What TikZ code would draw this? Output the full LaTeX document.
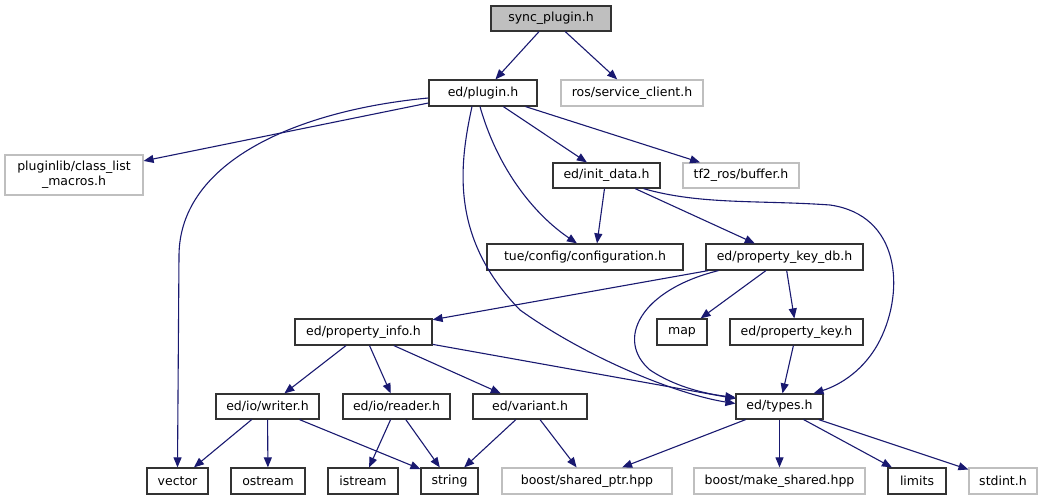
\documentclass[tikz,border=0pt]{standalone}
\usepackage{fontspec}
\setmainfont{DejaVu Sans}
\usetikzlibrary{arrows.meta}
\definecolor{edgeblue}{HTML}{191970}
\definecolor{extgray}{HTML}{BFBFBF}
\definecolor{boxline}{HTML}{333333}
\begin{document}
\begin{tikzpicture}[x=1pt,y=-1pt,
  every node/.style={font=\fontsize{12.5}{15}\selectfont, inner sep=0pt, minimum height=26pt, anchor=center},
  file/.style={draw=boxline, line width=1.2pt, fill=white},
  ext/.style={draw=extgray, line width=1.2pt, fill=white},
  root/.style={draw=boxline, line width=1.2pt, fill=extgray},
  dep/.style={draw=edgeblue, line width=1.1pt, -{Triangle[length=10pt,width=8pt]}}
]
\useasboundingbox (0,0) rectangle (1063,500);
% nodes
\node[root, minimum width=120pt, minimum height=25pt] (sync) at (551,18.5) {sync\_plugin.h};
\node[file, minimum width=108pt] (plugin) at (483,93) {ed/plugin.h};
\node[ext, minimum width=142pt] (svc) at (632,93) {ros/service\_client.h};
\node[ext, minimum width=138pt, minimum height=40pt, align=center] (plib) at (74,175) {pluginlib/class\_list\\\_macros.h};
\node[file, minimum width=107pt, minimum height=25pt] (init) at (606.5,175.5) {ed/init\_data.h};
\node[ext, minimum width=116pt, minimum height=25pt] (tf) at (741,175.5) {tf2\_ros/buffer.h};
\node[file, minimum width=196pt] (cfg) at (585,257) {tue/config/configuration.h};
\node[file, minimum width=157pt] (kdb) at (784.5,257) {ed/property\_key\_db.h};
\node[file, minimum width=137pt] (pinfo) at (363.5,332) {ed/property\_info.h};
\node[file, minimum width=50pt] (map) at (682,332) {map};
\node[file, minimum width=133pt] (pkey) at (796.5,332) {ed/property\_key.h};
\node[file, minimum width=103pt, minimum height=25pt] (writer) at (267.5,406.5) {ed/io/writer.h};
\node[file, minimum width=107pt, minimum height=25pt] (reader) at (396.5,406.5) {ed/io/reader.h};
\node[file, minimum width=114pt, minimum height=25pt] (variant) at (530,406.5) {ed/variant.h};
\node[file, minimum width=87pt, minimum height=25pt] (types) at (779.5,406.5) {ed/types.h};
\node[file, minimum width=61pt] (vector) at (177.5,481) {vector};
\node[file, minimum width=74pt] (ostream) at (268,481) {ostream};
\node[file, minimum width=70pt] (istream) at (363,481) {istream};
\node[file, minimum width=57pt] (string) at (449.5,481) {string};
\node[ext, minimum width=170pt] (sptr) at (587,481) {boost/shared\_ptr.hpp};
\node[ext, minimum width=171pt] (mks) at (779.5,481) {boost/make\_shared.hpp};
\node[file, minimum width=58pt] (limits) at (917,481) {limits};
\node[ext, minimum width=68pt] (stdint) at (1003,481) {stdint.h};
% edges
\draw[dep] (sync) -- (plugin);
\draw[dep] (sync) -- (svc);
\draw[dep] ([yshift=-10pt]plugin.west) -- (plib);
\draw[dep] ([yshift=-5pt]plugin.west) .. controls (300,110) and (180,160) .. (179,255) -- (vector.north);
\draw[dep] ([xshift=-11pt]plugin.south) .. controls (458,170) and (452,240) .. (520,310) .. controls (590,360) and (680,395) .. ([yshift=3pt]types.west);
\draw[dep] ([xshift=-3pt]plugin.south) .. controls (498,170) and (535,215) .. ([xshift=-8pt]cfg.north);
\draw[dep] (plugin) -- (init);
\draw[dep] (plugin) -- (tf);
\draw[dep] ([xshift=-2pt]init.south) -- ([xshift=12pt]cfg.north);
\draw[dep] (init) -- (kdb);
\draw[dep] ([xshift=37pt]init.south) .. controls (700,205) and (760,200) .. (830,205) .. controls (900,215) and (905,290) .. (880,340) .. controls (865,370) and (840,385) .. ([xshift=34pt]types.north);
\draw[dep] (kdb) -- (pinfo);
\draw[dep] ([xshift=-66pt]kdb.south) .. controls (640,290) and (615,340) .. (650,370) .. controls (680,390) and (715,395) .. ([yshift=-4pt]types.north west);
\draw[dep] (kdb) -- (map);
\draw[dep] (kdb) -- (pkey);
\draw[dep] (pkey) -- (types);
\draw[dep] (pinfo) -- (writer);
\draw[dep] (pinfo) -- (reader);
\draw[dep] (pinfo) -- (variant);
\draw[dep] (pinfo) -- (types);
\draw[dep] (writer) -- (vector);
\draw[dep] (writer) -- (ostream);
\draw[dep] (writer) -- (string);
\draw[dep] (reader) -- (istream);
\draw[dep] (reader) -- (string);
\draw[dep] (variant) -- (string);
\draw[dep] (variant) -- (sptr);
\draw[dep] (types) -- (sptr);
\draw[dep] (types) -- (mks);
\draw[dep] (types) -- (limits);
\draw[dep] (types) -- (stdint);
\end{tikzpicture}
\end{document}
